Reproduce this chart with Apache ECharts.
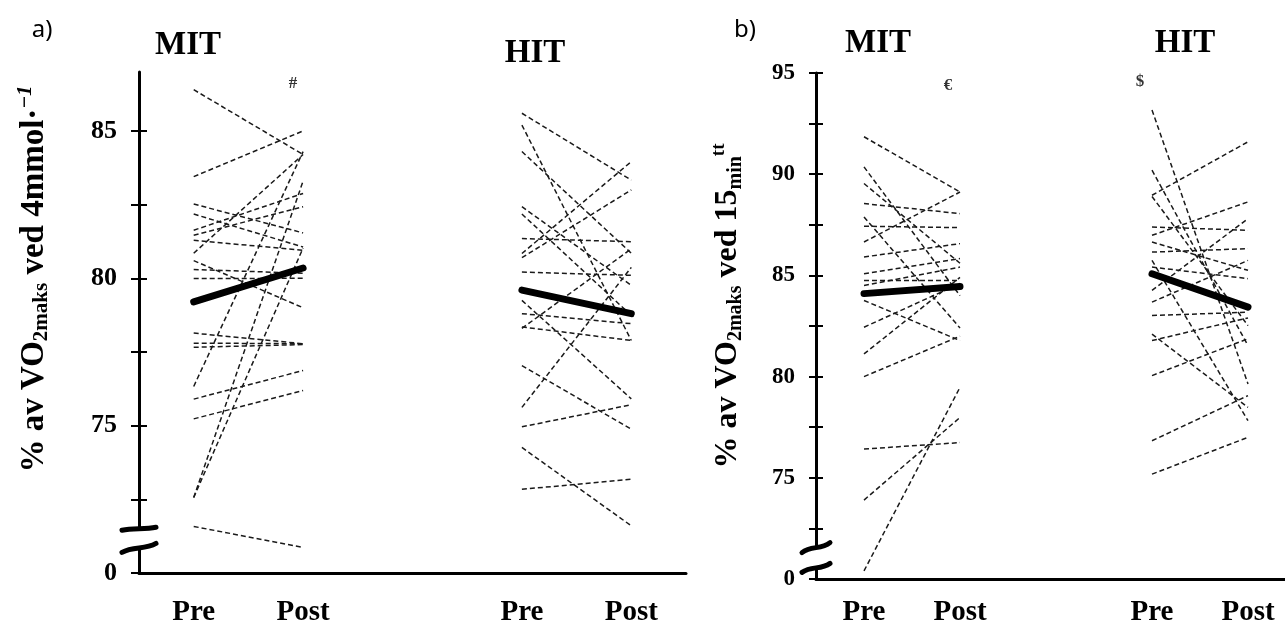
<!DOCTYPE html>
<html>
<head>
<meta charset="utf-8">
<script src="https://cdn.jsdelivr.net/npm/echarts@6/dist/echarts.min.js"></script>
<style>
  html, body { margin: 0; padding: 0; background: #fff; }
  #chart { width: 1285px; height: 621px; }
</style>
</head>
<body>
<div id="chart"></div>
<script>
// Time points on each x axis (the empty slot separates the MIT and HIT groups)
const timeLabels = ['Pre', 'Post', '', 'Pre', 'Post'];

// a) % av VO2maks ved 4 mmol — individual subjects
const aMitPre  = [86.4, 83.45, 82.52, 82.18, 81.63, 81.46, 81.29, 80.6, 80.85, 80.3, 79.99, 78.14, 77.8, 77.66, 76.33, 75.9, 75.23, 72.56, 72.56, 71.58];
const aMitPost = [84.2, 85.0, 81.54, 81.06, 82.88, 82.43, 80.95, 79.0, 84.2, 80.17, 80.0, 77.78, 77.78, 77.75, 84.3, 76.87, 76.19, 83.3, 81.03, 70.87];
const aHitPre  = [85.6, 85.2, 84.3, 82.43, 82.18, 81.35, 80.84, 80.7, 80.21, 79.25, 78.8, 78.35, 78.3, 77.04, 75.62, 74.96, 74.26, 72.84];
const aHitPost = [83.33, 77.89, 80.85, 79.76, 78.74, 81.24, 83.96, 83.0, 80.1, 75.91, 78.46, 77.89, 81.0, 74.88, 80.37, 75.71, 71.6, 73.18];
const aMitMean = [79.2, 80.35];
const aHitMean = [79.6, 78.8];

// b) % av VO2maks ved 15 min tt — individual subjects
const bMitPre  = [91.85, 90.36, 89.54, 88.55, 87.89, 87.43, 86.65, 85.91, 85.08, 84.75, 84.5, 83.76, 82.44, 81.12, 80.0, 76.42, 73.9, 70.4];
const bMitPost = [89.12, 84.0, 85.6, 88.05, 82.4, 87.36, 89.12, 86.57, 85.83, 84.75, 85.41, 81.78, 84.6, 84.9, 82.0, 76.74, 77.98, 79.47];
const bHitPre  = [93.17, 90.2, 88.96, 88.9, 87.39, 86.98, 86.65, 86.15, 85.74, 85.41, 84.26, 83.68, 83.02, 82.1, 81.78, 80.05, 76.83, 75.18];
const bHitPost = [79.64, 81.53, 91.6, 82.52, 87.23, 88.63, 85.25, 86.32, 77.82, 84.84, 87.8, 85.74, 83.18, 78.48, 82.9, 81.87, 79.06, 77.0];
const bMitMean = [84.1, 84.45];
const bHitMean = [85.08, 83.43];

// Axis ticks / labels (the bottom value is shown as 0 below the axis break)
const aTicks  = [70, 72.5, 75, 77.5, 80, 82.5, 85];
const aLabels = [70, 75, 80, 85];
const bTicks  = [70, 72.5, 75, 77.5, 80, 82.5, 85, 87.5, 90, 92.5, 95];
const bLabels = [70, 75, 80, 85, 90, 95];
const aRange = [70, 87];
const bRange = [70, 95];

// Axis break marks: [upper mark value, lower mark value]
const aBreak = [71.5, 70.85];
const bBreak = [71.55, 70.55];

// Significance markers: x slot, value and symbol
const aNoteX = [1];        const aNoteY = [86.6];          const aNoteText = ['#'];
const bNoteX = [1, 3];     const bNoteY = [94.4, 94.55];   const bNoteText = ['\u20ac', '$'];

const SERIF = '"Liberation Serif", "Times New Roman", serif';

function subjectSeries(pre, post, xPre, gridIdx) {
  return pre.map((v, i) => ({
    type: 'line',
    xAxisIndex: gridIdx, yAxisIndex: gridIdx * 2,
    data: [[xPre, v], [xPre + 1, post[i]]],
    symbol: 'none', silent: true, z: 3,
    lineStyle: { color: '#1a1a1a', width: 1.5, type: [5, 3] }
  }));
}

function meanSeries(mean, xPre, gridIdx) {
  return {
    type: 'line',
    xAxisIndex: gridIdx, yAxisIndex: gridIdx * 2,
    data: [[xPre, mean[0]], [xPre + 1, mean[1]]],
    symbol: 'none', silent: true, z: 5,
    lineStyle: { color: '#000', width: 7, cap: 'round' }
  };
}

function noteSeries(xs, ys, texts, gridIdx, offsets) {
  return {
    type: 'scatter',
    xAxisIndex: gridIdx, yAxisIndex: gridIdx * 2,
    data: xs.map((x, i) => [x, ys[i]]),
    symbol: 'circle', symbolSize: 2, silent: true, z: 7,
    itemStyle: { color: 'rgba(0,0,0,0)' },
    label: {
      show: true, position: 'inside',
      formatter: p => texts[p.dataIndex],
      fontFamily: SERIF, fontWeight: 'bold', fontSize: 17, color: '#000',
      offset: offsets
    }
  };
}

// Draws the two "~" break strokes across the y axis and clears the axis line between them
function breakRenderer(halfW, slantTop, slantBot, thick) {
  return function (params, api) {
    const band = api.size([1, 0])[0];
    const pTop = api.coord([0, api.value(1)]);
    const pBot = api.coord([0, api.value(2)]);
    const x = pTop[0] - band / 2;
    function stroke(cy, slant) {
      return {
        type: 'bezierCurve',
        shape: {
          x1: x - halfW, y1: cy + slant / 2,
          x2: x + halfW, y2: cy - slant / 2,
          cpx1: x - halfW / 3, cpy1: cy - slant / 4,
          cpx2: x + halfW / 3, cpy2: cy + slant / 4
        },
        style: { stroke: '#000', fill: null, lineWidth: thick, lineCap: 'round' }
      };
    }
    return {
      type: 'group',
      children: [
        { type: 'rect', shape: { x: x - 4, y: pTop[1], width: 8, height: pBot[1] - pTop[1] },
          style: { fill: '#fff' } },
        stroke(pTop[1], slantTop),
        stroke(pBot[1], slantBot)
      ]
    };
  };
}

function yAxes(gridIdx, range, ticks, labels, fs, margin, tickLen) {
  const base = {
    type: 'value', gridIndex: gridIdx, position: 'left',
    min: range[0], max: range[1], splitLine: { show: false }
  };
  return [
    Object.assign({}, base, {
      axisLine: { show: true, lineStyle: { color: '#000', width: 3 } },
      axisTick: { show: true, inside: false, length: tickLen, customValues: ticks,
                  lineStyle: { color: '#000', width: 2 } },
      axisLabel: { show: true, customValues: labels, margin: margin,
                   formatter: v => (v === range[0] ? '0' : String(v)),
                   fontFamily: SERIF, fontWeight: 'bold', fontSize: fs, color: '#000' }
    }),
    Object.assign({}, base, {
      axisLine: { show: false },
      axisTick: { show: true, inside: true, length: tickLen, customValues: ticks,
                  lineStyle: { color: '#000', width: 2 } },
      axisLabel: { show: false }
    })
  ];
}

function xAxis(gridIdx, margin) {
  return {
    type: 'category', gridIndex: gridIdx, data: timeLabels, boundaryGap: true,
    axisLine: { show: true, lineStyle: { color: '#000', width: 3 } },
    axisTick: { show: false },
    axisLabel: { interval: 0, margin: margin, fontFamily: SERIF, fontWeight: 'bold',
                 fontSize: 29, color: '#000' }
  };
}

function title(text, x, y, size, family, weight) {
  return {
    type: 'text', x: x, y: y, silent: true,
    style: { text: text, fontFamily: family, fontWeight: weight, fontSize: size,
             fill: '#000', align: 'center', verticalAlign: 'middle' }
  };
}

function axisName(text, x, y, mainSize, subSize) {
  return {
    type: 'text', x: x, y: y, rotation: Math.PI / 2, silent: true,
    style: {
      text: text, align: 'center', verticalAlign: 'middle', fill: '#000',
      rich: {
        m: { fontFamily: SERIF, fontWeight: 'bold', fontSize: mainSize, lineHeight: mainSize + 4, verticalAlign: 'middle' },
        s: { fontFamily: SERIF, fontWeight: 'bold', fontSize: subSize, verticalAlign: 'bottom', lineHeight: subSize },
        p: { fontFamily: SERIF, fontWeight: 'bold', fontSize: subSize - 1, verticalAlign: 'top', lineHeight: subSize },
        pi: { fontFamily: SERIF, fontWeight: 'bold', fontStyle: 'italic', fontSize: subSize, verticalAlign: 'top', lineHeight: subSize }
      }
    }
  };
}

const chart = echarts.init(document.getElementById('chart'), null, { renderer: 'canvas' });

const series = [].concat(
  subjectSeries(aMitPre, aMitPost, 0, 0),
  subjectSeries(aHitPre, aHitPost, 3, 0),
  subjectSeries(bMitPre, bMitPost, 0, 1),
  subjectSeries(bHitPre, bHitPost, 3, 1),
  [
    meanSeries(aMitMean, 0, 0), meanSeries(aHitMean, 3, 0),
    meanSeries(bMitMean, 0, 1), meanSeries(bHitMean, 3, 1),
    noteSeries(aNoteX, aNoteY, aNoteText, 0, [-10, 0]),
    noteSeries(bNoteX, bNoteY, bNoteText, 1, [-12, 0]),
    {
      type: 'custom', xAxisIndex: 0, yAxisIndex: 0, clip: false, silent: true, z: 6,
      data: [[0, aBreak[0], aBreak[1]]], encode: { x: 0, y: [1, 2] },
      renderItem: breakRenderer(17, 3, 9, 5)
    },
    {
      type: 'custom', xAxisIndex: 1, yAxisIndex: 2, clip: false, silent: true, z: 6,
      data: [[0, bBreak[0], bBreak[1]]], encode: { x: 0, y: [1, 2] },
      renderItem: breakRenderer(14, 10, 9, 5)
    }
  ]
);

chart.setOption({
  animation: false,
  backgroundColor: '#fff',
  grid: [
    { left: 139, top: 72, width: 547, height: 501, outerBoundsMode: 'none', containLabel: false },
    { left: 816, top: 73, width: 480, height: 506, outerBoundsMode: 'none', containLabel: false }
  ],
  xAxis: [xAxis(0, 25), xAxis(1, 19)],
  yAxis: [].concat(
    yAxes(0, aRange, aTicks, aLabels, 26, 22, 8),
    yAxes(1, bRange, bTicks, bLabels, 23, 21, 7)
  ),
  graphic: [
    title('a)', 42, 30, 24, '"Noto Sans", "Open Sans", sans-serif', 'normal'),
    title('b)', 745, 30, 24, '"Noto Sans", "Open Sans", sans-serif', 'normal'),
    title('MIT', 188, 45, 33, SERIF, 'bold'),
    title('HIT', 535, 53, 33, SERIF, 'bold'),
    title('MIT', 878, 43, 33, SERIF, 'bold'),
    title('HIT', 1185, 43, 33, SERIF, 'bold'),
    axisName('{m|% av VO}{s|2maks}{m| ved 4mmol\u00b7}{pi|\u22121}', 34, 279, 33, 21),
    axisName('{m|% av VO}{s|2maks}{m| ved 15}{s|min}{p|tt}', 728, 306, 32, 20)
  ],
  series: series
});
</script>
</body>
</html>
